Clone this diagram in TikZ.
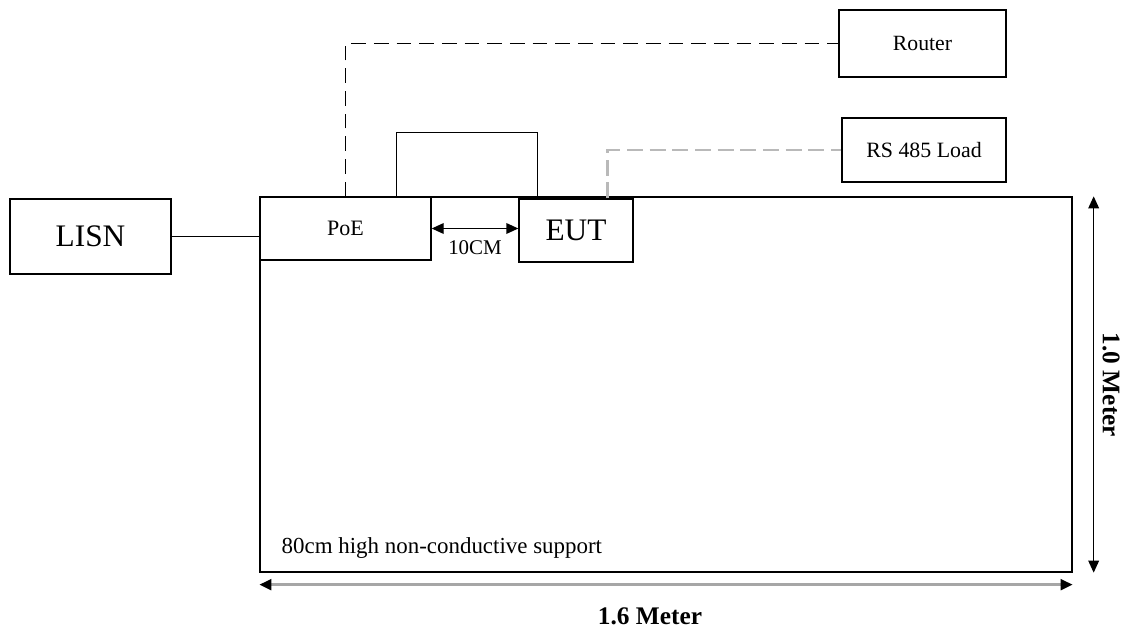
\documentclass[tikz,border=0pt]{standalone}
\usepackage{fontspec}
\setmainfont{Liberation Serif}
\usetikzlibrary{arrows.meta}
\tikzset{>={Triangle[length=9pt,width=8pt]}}
\tikzset{box/.style={draw, line width=1pt, inner sep=0pt},
         cable/.style={line width=1pt},
         lan/.style={line width=1pt, dash pattern=on 11pt off 6pt},
         bus/.style={line width=2.2pt, gray!55, dash pattern=on 12pt off 5pt}}

\begin{document}
\begin{tikzpicture}[x=0.75pt,y=-0.75pt]
    \useasboundingbox (0,0) rectangle (1125,630);
    % table and boxes
    \node[box, minimum width=609pt, minimum height=281.25pt] (table) at (666,384.5) {};
    \node[box, minimum width=128.25pt, minimum height=47.25pt,
          font=\fontsize{16.5}{19}\selectfont] (poe) at (345.5,228.5) {PoE};
    \node[box, minimum width=85.5pt, minimum height=47.25pt,
          font=\fontsize{23.5}{27}\selectfont] (eut) at (576,230.5) {EUT};
    \node[box, minimum width=120.75pt, minimum height=56.25pt,
          font=\fontsize{23.5}{27}\selectfont] (lisn) at (90.5,236.5) {LISN};
    \node[box, minimum width=125.25pt, minimum height=50.25pt,
          font=\fontsize{16.3}{19}\selectfont] (router) at (922.5,43.5) {Router};
    \node[box, minimum width=123pt, minimum height=48pt,
          font=\fontsize{16.4}{19}\selectfont] (load) at (924,150) {RS 485 Load};
    % cables
    \draw[cable] (lisn.east) -- (lisn.east -| poe.west);
    \draw[lan] ([xshift=64.5pt]poe.north west) |- (router.west);
    \draw[cable] ([xshift=102.75pt]poe.north west) -- ++(0,-64) -| ([xshift=14.25pt]eut.north west);
    \draw[bus] ([xshift=66.75pt]eut.north west) |- (load.west);
    % distances
    \draw[<->, line width=1pt] (poe.east) -- (poe.east -| eut.west)
        node[midway, below=5pt, font=\fontsize{15.7}{18}\selectfont] {10CM};
    \draw[<->, line width=1pt] ([xshift=15.75pt]table.north east) -- ([xshift=15.75pt]table.south east);
    \draw[{Triangle[length=9pt,width=8pt,color=black]}-{Triangle[length=9pt,width=8pt,color=black]},
          line width=2pt, gray!70] ([yshift=-9pt]table.south west) -- ([yshift=-9pt]table.south east);
    \node[rotate=-90, font=\fontsize{19}{22}\selectfont\bfseries] (height) at (1111,385) {1.0 Meter};
    \node[font=\fontsize{19}{22}\selectfont\bfseries] (width) at (650,616) {1.6 Meter};
    \node[anchor=west, font=\fontsize{17.2}{20}\selectfont] (support) at (277,548) {80cm high non-conductive support};
\end{tikzpicture}
\end{document}
